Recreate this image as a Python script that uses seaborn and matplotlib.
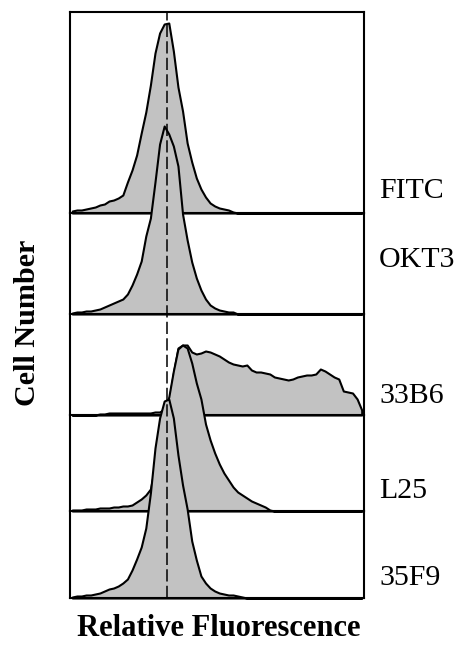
import numpy as np
import pandas as pd
import matplotlib.pyplot as plt
import seaborn as sns

# Flow cytometry histograms, 64 bins of 4 channels each (0..256)
panel_labels = ["FITC", "OKT3", "33B6", "L25", "35F9"]
bin_edges = list(range(0, 257, 4))
ref_channel = 84.5  # dashed reference line (FITC peak)

fitc = [2, 3, 3, 4, 5, 6, 8, 9, 12, 13,
        15, 18, 31, 43, 58, 80, 101, 128, 160, 180,
        189, 190, 162, 126, 102, 70, 51, 35, 24, 16,
        10, 7, 5, 4, 3, 1, 0, 0, 0, 0] + [0] * 24
okt3 = [1, 2, 2, 3, 3, 4, 5, 7, 9, 11,
        13, 15, 20, 29, 40, 53, 78, 96, 132, 170,
        188, 180, 168, 148, 100, 74, 52, 36, 24, 15,
        9, 6, 4, 3, 2, 2, 0, 0, 0, 0] + [0] * 24
b33b6 = [0, 0, 0, 0, 0, 0, 1, 1, 2, 2,
         2, 2, 2, 2, 2, 2, 2, 2, 3, 3,
         6, 14, 42, 67, 70, 70, 63, 61, 62, 64,
         63, 61, 59, 56, 53, 51, 50, 49, 50, 45,
         43, 43, 42, 41, 38, 37, 36, 35, 36, 38,
         39, 40, 40, 41, 46, 44, 41, 38, 36, 24,
         23, 22, 16, 5]
l25 = [1, 1, 1, 2, 2, 2, 3, 3, 3, 4,
       4, 5, 5, 6, 9, 12, 16, 22, 45, 75,
       100, 114, 140, 162, 166, 163, 148, 128, 112, 87,
       71, 58, 47, 38, 31, 24, 19, 16, 13, 10,
       8, 6, 4, 1, 0, 0, 0, 0, 0, 0] + [0] * 14
f35f9 = [1, 2, 2, 3, 3, 4, 5, 7, 9, 10,
         12, 15, 19, 28, 39, 51, 70, 105, 150, 180,
         197, 199, 180, 143, 113, 89, 57, 38, 22, 15,
         10, 7, 5, 4, 3, 3, 2, 1, 0, 0] + [0] * 24
series = [fitc, okt3, b33b6, l25, f35f9]

# panel heights (same count scale in every panel)
panel_heights = [201, 101, 101, 96, 87]

sns.set_style("white")
plt.rcParams["font.family"] = ["Liberation Serif", "DejaVu Serif"]
plt.rcParams["text.color"] = "black"

W, H = 457, 646
fig, axes = plt.subplots(5, 1, figsize=(W / 100, H / 100), dpi=100,
                         gridspec_kw=dict(height_ratios=panel_heights, hspace=0))
left, right, top, bottom = 70 / W, 364 / W, 1 - 12 / H, 1 - 598 / H
fig.subplots_adjust(left=left, right=right, top=top, bottom=bottom)

centers = [(a + b) / 2 for a, b in zip(bin_edges[:-1], bin_edges[1:])]
label_baselines = [198, 267, 403, 498, 585]

for i, (ax, counts, name, ph) in enumerate(zip(axes, series, panel_labels, panel_heights)):
    ax.set_facecolor("none")
    df = pd.DataFrame({"channel": centers, "cells": counts})
    sns.histplot(data=df, x="channel", weights="cells", bins=bin_edges, element="poly",
                 fill=True, color="#c2c2c2", alpha=1, edgecolor="black", linewidth=1.5, ax=ax)
    for art in ax.collections:
        art.set_clip_on(False)
    ax.set_xlim(0, 256)
    ax.set_ylim(0, ph)
    ax.set(xlabel="", ylabel="", xticks=[], yticks=[])
    for side in ["left", "right", "bottom", "top"]:
        ax.spines[side].set_linewidth(1.5)
        ax.spines[side].set_color("black")
    if i > 0:
        ax.spines["top"].set_visible(False)
    fig.text(379 / W, 1 - label_baselines[i] / H, name, fontsize=21.5,
             color="black", ha="left", va="baseline")

# dashed reference line across all panels, on top
ov = fig.add_axes([left, bottom, right - left, top - bottom])
ov.set_facecolor("none")
ov.axis("off")
ov.set_xlim(0, 256)
ov.set_ylim(0, 1)
ov.axvline(ref_channel, color="black", lw=1.1, linestyle=(0, (8, 2.8)))

fig.text(35 / W, 1 - 323 / H, "Cell Number", fontsize=21.7, fontweight="bold",
         color="black", rotation=90, rotation_mode="anchor", ha="center", va="baseline")
fig.text(218.5 / W, 1 - 635.5 / H, "Relative Fluorescence", fontsize=22,
         fontweight="bold", color="black", ha="center", va="baseline")

fig.savefig("out.png", dpi=100)
